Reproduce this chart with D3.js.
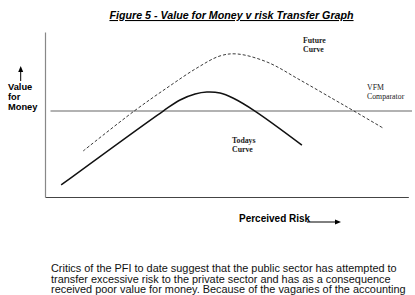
<!DOCTYPE html>
<html>
<head>
<style>
  body { margin: 0; background: #fff; }
  svg { display: block; }
</style>
</head>
<body>
<script src="https://d3js.org/d3.v7.min.js"></script>
<script>
// values (risk on x, value on y, both 0..100)
var todaysRisk  = [4.4, 32.2, 36.8, 40.9, 44.1, 47.7, 51.2, 57.2, 70.0];
var todaysValue = [7.3, 52.1, 58.8, 62.4, 63.6, 63.0, 60.0, 52.1, 31.5];
var futureRisk  = [10.4, 24.3, 33.2, 41.4, 47.7, 52.3, 60.5, 69.5, 78.5, 84.2, 92.1];
var futureValue = [27.9, 52.1, 66.1, 78.2, 85.5, 86.7, 81.8, 70.9, 59.4, 52.1, 41.8];
var vfmValue = 52.1;
var vfmRisk = [1.5, 100];

var titleText = "Figure 5 - Value for Money v risk Transfer Graph";
var paragraph = [
  "Critics of the PFI to date suggest that the public sector has attempted to",
  "transfer excessive risk to the private sector and has as a consequence",
  "received poor value for money. Because of the vagaries of the accounting"
];

var W = 415, H = 295;
var svg = d3.select("body").append("svg").attr("width", W).attr("height", H);

var x = d3.scaleLinear().domain([0, 100]).range([45, 412]);
var y = d3.scaleLinear().domain([0, 100]).range([197, 32]);

// title
svg.append("text")
   .attr("x", 231.5).attr("y", 19)
   .attr("text-anchor", "middle")
   .style("font-family", "Arial, 'Liberation Sans', sans-serif")
   .style("font-size", "10.7px").style("font-weight", "bold").style("font-style", "italic")
   .style("text-decoration", "underline")
   .text(titleText);

// axes, no ticks
svg.append("g").attr("transform", "translate(0," + y(0) + ")")
   .call(d3.axisBottom(d3.scaleLinear().domain([0, 99]).range([x(0), x(99)])).tickValues([]).tickSizeOuter(0))
   .select(".domain").attr("stroke", "#444").attr("stroke-width", 1.2);
svg.append("g").attr("transform", "translate(" + x(0) + ",0)")
   .call(d3.axisLeft(y).tickValues([]).tickSizeOuter(0))
   .select(".domain").attr("stroke", "#888").attr("stroke-width", 1.2);

// VFM comparator line
svg.append("line")
   .attr("x1", x(vfmRisk[0])).attr("x2", x(vfmRisk[1]))
   .attr("y1", y(vfmValue)).attr("y2", y(vfmValue))
   .attr("stroke", "#666").attr("stroke-width", 1.1);

var line = d3.line()
   .x(function(d) { return x(d[0]); })
   .y(function(d) { return y(d[1]); })
   .curve(d3.curveCatmullRom);

svg.append("path")
   .datum(d3.zip(futureRisk, futureValue))
   .attr("d", line).attr("fill", "none")
   .attr("stroke", "#222").attr("stroke-width", 0.9)
   .attr("stroke-dasharray", "3,2");

svg.append("path")
   .datum(d3.zip(todaysRisk, todaysValue))
   .attr("d", line).attr("fill", "none")
   .attr("stroke", "#111").attr("stroke-width", 1.5);

// serif labels
function serifLabel(lines, px, py, bold) {
  var t = svg.append("text")
     .style("font-family", "'Liberation Serif', 'Times New Roman', serif")
     .style("font-size", "7.8px").style("font-weight", bold ? "bold" : "normal")
     .attr("fill", "#222");
  lines.forEach(function(s, i) {
    t.append("tspan").attr("x", px).attr("y", py + i * 9.3).text(s);
  });
}
serifLabel(["Future", "Curve"], 303, 43, true);
serifLabel(["VFM", "Comparator"], 367, 90, false);
serifLabel(["Todays", "Curve"], 232, 143, true);

// y label with arrow
var ylab = svg.append("text")
   .style("font-family", "Arial, 'Liberation Sans', sans-serif")
   .style("font-size", "9.3px").style("font-weight", "bold");
["Value", "for", "Money"].forEach(function(s, i) {
  ylab.append("tspan").attr("x", 8).attr("y", 89.5 + i * 10).text(s);
});
svg.append("line").attr("x1", 20.7).attr("x2", 20.7).attr("y1", 81).attr("y2", 71)
   .attr("stroke", "#000").attr("stroke-width", 1);
svg.append("path").attr("d", "M20.7,66 L18.2,72 L23.2,72 Z").attr("fill", "#000");

// x label with arrow
svg.append("text")
   .attr("x", 239).attr("y", 221.7)
   .style("font-family", "Arial, 'Liberation Sans', sans-serif")
   .style("font-size", "10px").style("font-weight", "bold")
   .text("Perceived Risk");
svg.append("line").attr("x1", 307).attr("x2", 336).attr("y1", 222).attr("y2", 222)
   .attr("stroke", "#000").attr("stroke-width", 1);
svg.append("path").attr("d", "M341,222 L335,219.5 L335,224.5 Z").attr("fill", "#000");

// body text
var para = svg.append("text")
   .style("font-family", "Arial, 'Liberation Sans', sans-serif")
   .style("font-size", "10.9px").attr("fill", "#111");
paragraph.forEach(function(s, i) {
  para.append("tspan").attr("x", 51).attr("y", 272 + i * 10.7).text(s);
});
</script>
</body>
</html>
